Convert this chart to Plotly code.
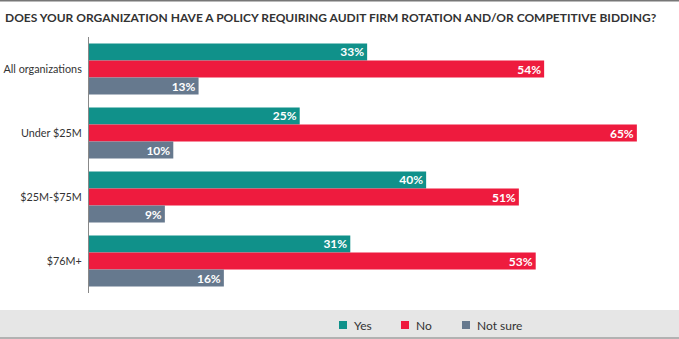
import plotly.graph_objects as go

categories = ["All organizations", "Under $25M", "$25M-$75M", "$76M+"]
yes_vals = [33, 25, 40, 31]
no_vals = [54, 65, 51, 53]
notsure_vals = [13, 10, 9, 16]
series_names = ["Yes", "No", "Not sure"]
colors = ["#10918a", "#ee1b3e", "#66798e"]
title_text = "DOES YOUR ORGANIZATION HAVE A POLICY REQUIRING AUDIT FIRM ROTATION AND/OR COMPETITIVE BIDDING?"

FONT = "Lato"
fig = go.Figure()
for name, vals, col in zip(series_names, [yes_vals, no_vals, notsure_vals], colors):
    fig.add_trace(go.Bar(
        y=categories, x=vals, name=name, orientation="h",
        marker=dict(color=col, line=dict(width=0)),
        text=[f"{v}%" for v in vals], textposition="inside",
        insidetextanchor="end",
        textfont=dict(family=FONT, size=12, color="white", weight="bold"),
        cliponaxis=False, showlegend=False,
    ))

W, H = 679, 339
L, T, B = 89, 37, 46
plot_w = W - L
plot_h = H - T - B
fig.update_layout(
    width=W, height=H,
    margin=dict(l=L, r=0, t=T, b=B, autoexpand=False),
    paper_bgcolor="white", plot_bgcolor="white",
    barmode="group", bargap=0.2, bargroupgap=0,
    font=dict(family=FONT, size=12, color="#333333"),
    uniformtext=dict(mode="show", minsize=12),
    xaxis=dict(range=[0, 70], showgrid=False, showticklabels=False, zeroline=False,
               showline=False, fixedrange=True, automargin=False),
    yaxis=dict(autorange="reversed", showgrid=False, showline=True, linecolor="#888888",
               linewidth=1, ticks="", ticklabelstandoff=4, fixedrange=True, automargin=False,
               tickfont=dict(family=FONT, size=10.8, color="#333333")),
)


def px_x(x):
    return (x - L) / plot_w


def px_y(y):
    return (H - B - y) / plot_h


# legend band
fig.add_shape(type="rect", xref="paper", yref="paper",
              x0=px_x(0), x1=1, y0=px_y(337), y1=px_y(310),
              fillcolor="#e6e6e6", line=dict(width=0), layer="below")
fig.add_shape(type="line", xref="paper", yref="paper",
              x0=px_x(0), x1=1, y0=px_y(338), y1=px_y(338),
              line=dict(color="#999999", width=1.5))
# top border line
fig.add_shape(type="line", xref="paper", yref="paper",
              x0=px_x(0), x1=1, y0=px_y(0.5), y1=px_y(0.5),
              line=dict(color="#777777", width=2))
fig.add_annotation(text=title_text, xref="paper", yref="paper",
                   x=px_x(3), xanchor="left", y=px_y(17), yanchor="middle",
                   showarrow=False, font=dict(family=FONT, size=12, color="#333333", weight="bold"))

# legend
legend_x = [339, 401, 462]
for name, col, lx in zip(series_names, colors, legend_x):
    fig.add_shape(type="rect", xref="paper", yref="paper",
                  x0=px_x(lx), x1=px_x(lx + 8), y0=px_y(329), y1=px_y(321),
                  fillcolor=col, line=dict(width=0))
    fig.add_annotation(text=name, xref="paper", yref="paper",
                       x=px_x(lx + 13), xanchor="left", y=px_y(325), yanchor="middle",
                       showarrow=False, font=dict(family=FONT, size=12, color="#333333"))

fig.write_html("out.html")
